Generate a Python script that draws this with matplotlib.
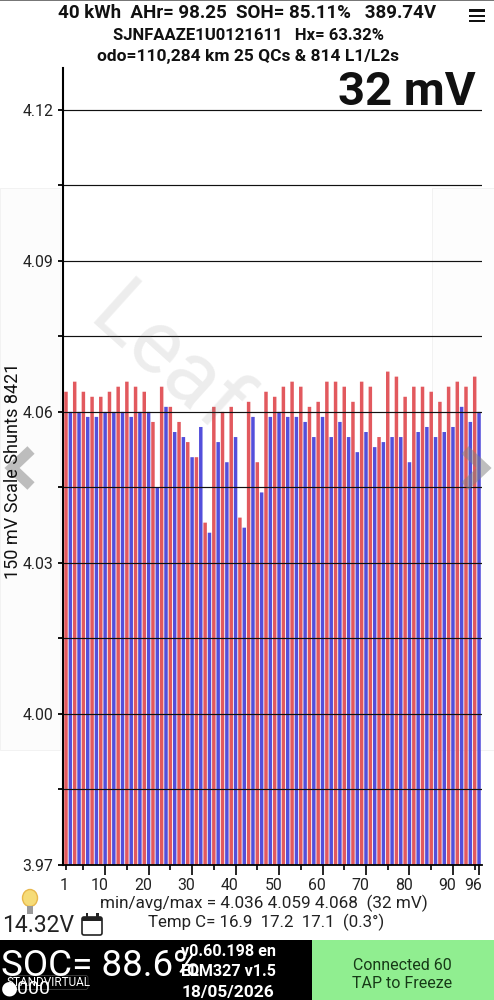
import matplotlib
matplotlib.use('Agg')
import matplotlib.pyplot as plt
from matplotlib.patches import Rectangle, Ellipse, FancyBboxPatch

plt.rcParams['font.family'] = ['Roboto', 'DejaVu Sans']

# Cell pair readings, red = odd cells, blue = even cells
red_values = [4.064, 4.066, 4.064, 4.063, 4.063, 4.064, 4.065, 4.066, 4.065, 4.064, 4.058, 4.065,
              4.061, 4.058, 4.054, 4.051, 4.038, 4.061, 4.060, 4.061, 4.039, 4.062, 4.050, 4.064,
              4.063, 4.065, 4.066, 4.065, 4.061, 4.062, 4.066, 4.066, 4.065, 4.062, 4.066, 4.065,
              4.055, 4.068, 4.067, 4.063, 4.065, 4.065, 4.064, 4.062, 4.065, 4.066, 4.065, 4.067]
blue_values = [4.060, 4.060, 4.059, 4.059, 4.060, 4.060, 4.060, 4.059, 4.060, 4.060, 4.045, 4.061,
               4.056, 4.055, 4.051, 4.057, 4.036, 4.054, 4.050, 4.055, 4.037, 4.059, 4.044, 4.059,
               4.060, 4.059, 4.059, 4.058, 4.055, 4.059, 4.055, 4.058, 4.055, 4.052, 4.056, 4.053,
               4.054, 4.055, 4.055, 4.050, 4.056, 4.057, 4.055, 4.056, 4.057, 4.061, 4.058, 4.060]

grid_values = [3.97, 3.985, 4.00, 4.015, 4.03, 4.045, 4.06, 4.075, 4.09, 4.105, 4.12]
y_labels = ['3.97', '', '4.00', '', '4.03', '', '4.06', '', '4.09', '', '4.12']
x_major = [10, 20, 30, 40, 50, 60, 70, 80, 90, 96]
x_minor = [1, 5, 15, 25, 35, 45, 55, 65, 75, 85, 95]
x_labels = ['1', '10', '20', '30', '40', '50', '60', '70', '80', '90', '96']
x_label_pos = [1, 10, 20, 30, 40, 50, 60, 70, 80, 90, 96]

W, H = 494, 1000
fig = plt.figure(figsize=(W / 100, H / 100), dpi=100, facecolor='white')

# Overlay in pixel coordinates, for the app furniture around the chart
back = fig.add_axes([0, 0, 1, 1], zorder=0)
back.set_xlim(0, W)
back.set_ylim(H, 0)
back.axis('off')
back.add_patch(Rectangle((0, 188), 60, 562, fc='#fcfcfc', ec='#f2f2f2', lw=0.7))
back.add_patch(Rectangle((432, 188), 62, 562, fc='#fdfdfd', ec='#f2f2f2', lw=0.7))

# Main chart
ax = fig.add_axes([63 / W, 1 - 865 / H, 419 / W, 797 / H], zorder=1)
ax.patch.set_alpha(0)
red_x = [i * 2 + 1 for i in range(len(red_values))]
blue_x = [i * 2 + 2 for i in range(len(blue_values))]
# snap off, otherwise the narrow bars get rounded to uneven pixel widths
ax.bar(red_x, red_values, width=0.8, color='#E2595E', zorder=2, linewidth=0, snap=False)
ax.bar(blue_x, blue_values, width=0.8, color='#534FDB', zorder=2, linewidth=0, snap=False)
ax.set_xlim(0.31, 96.68)
ax.set_ylim(3.97, 4.1283)

for v in grid_values[1:]:
    ax.axhline(v, color='#111111', lw=0.85, zorder=3)

ax.spines['top'].set_visible(False)
ax.spines['right'].set_visible(False)
ax.spines['left'].set_linewidth(1.5)
ax.spines['bottom'].set_linewidth(1.3)
ax.spines['left'].set_zorder(5)
ax.set_yticks(grid_values)
ax.set_yticklabels(y_labels, fontsize=11.4, color='#222222')
ax.tick_params(axis='y', length=3.8, width=1.3, pad=3)
ax.set_xticks(x_major)
ax.set_xticklabels([])
ax.set_xticks(x_minor, minor=True)
ax.tick_params(axis='x', which='major', length=7.5, width=1.2)
ax.tick_params(axis='x', which='minor', length=3.8, width=1.2)

# The app draws its x labels a little to the left of the ticks
for pos, lab in zip(x_label_pos, x_labels):
    shift = -1.5 if pos == 1 else -4.2
    ax.annotate(lab, xy=(pos, 0), xycoords=('data', 'axes fraction'),
                xytext=(shift, -14.5), textcoords='offset points',
                ha='center', va='center', fontsize=11.4, color='#222222')

# Top overlay
top = fig.add_axes([0, 0, 1, 1], zorder=2)
top.set_xlim(0, W)
top.set_ylim(H, 0)
top.axis('off')
top.patch.set_alpha(0)

# Watermark and the swipe arrows
top.text(85, 322, 'Leaf', fontsize=64, color='#777777', alpha=0.13, rotation=-42,
         rotation_mode='anchor', ha='left', va='baseline')
top.plot([31, 12, 31], [450, 468, 486], color='#808080', alpha=0.5, lw=7.5,
         solid_joinstyle='miter', solid_capstyle='butt')
top.plot([465, 484, 465], [450, 468, 486], color='#808080', alpha=0.5, lw=7.5,
         solid_joinstyle='miter', solid_capstyle='butt')

top.add_patch(Rectangle((0, 0), W, 1, fc='#777777', ec='none'))

# Header
top.text(247, 13.5, '40 kWh  AHr= 98.25  SOH= 85.11%   389.74V', fontsize=13.5, fontweight='bold',
         ha='center', va='center', color='#111111')
top.text(248, 35, 'SJNFAAZE1U0121611   Hx= 63.32%', fontsize=12, fontweight='bold',
         ha='center', va='center', color='#111111')
top.text(248, 57, 'odo=110,284 km 25 QCs & 814 L1/L2s', fontsize=12.5, fontweight='bold',
         ha='center', va='center', color='#111111')
top.text(476, 92, '32 mV', fontsize=34, fontweight='bold', ha='right', va='center', color='#111111')
for y in (9, 14.5, 19.5):
    top.add_patch(Rectangle((469, y), 16, 2.8, fc='#111111', ec='none'))

top.text(13, 471, '150 mV Scale Shunts 8421', fontsize=13, rotation=90, ha='center', va='center',
         color='#111111')

# Below the chart
top.text(264, 903, 'min/avg/max = 4.036 4.059 4.068  (32 mV)', fontsize=12.3, ha='center', va='center',
         color='#222222')
top.text(266, 922, 'Temp C= 16.9  17.2  17.1  (0.3\u00b0)', fontsize=12.2, ha='center', va='center',
         color='#222222')
top.text(2, 925, '14.32V', fontsize=16.5, ha='left', va='center', color='#222222')

# Bulb and calendar icons
top.add_patch(Ellipse((30, 898), 15, 17, fc='#F6DC78', ec='#E8B84C', lw=1))
top.add_patch(Rectangle((27, 906), 6, 8, fc='#9a9a9a', ec='none'))
top.add_patch(FancyBboxPatch((82, 917), 20, 18, boxstyle='round,pad=0,rounding_size=2',
                             fc='white', ec='#222222', lw=1.2))
top.add_patch(Rectangle((82, 917), 20, 4, fc='#222222', ec='none'))
top.add_patch(Rectangle((85.5, 913), 2.5, 6, fc='#222222', ec='none'))
top.add_patch(Rectangle((96, 913), 2.5, 6, fc='#222222', ec='none'))

# Bottom strip
top.add_patch(Rectangle((0, 940), 311.5, 60, fc='black', ec='none'))
top.add_patch(Rectangle((311.5, 940), W - 311.5, 60, fc='#90EE90', ec='none'))
top.text(1, 966, 'SOC= 88.6%', fontsize=26.5, color='white', ha='left', va='center')
top.text(228, 952, 'v0.60.198 en', fontsize=11.6, fontweight='bold', color='white', ha='center', va='center')
top.text(228, 972, 'ELM327 v1.5', fontsize=11.6, fontweight='bold', color='white', ha='center', va='center')
top.text(228, 992, '18/05/2026', fontsize=12.5, fontweight='bold', color='white', ha='center', va='center')
top.text(402, 965, 'Connected 60', fontsize=11.5, color='#173a17', ha='center', va='center')
top.text(402, 984, 'TAP to Freeze', fontsize=11.5, color='#173a17', ha='center', va='center')
top.text(1, 988, '\u25cf000', fontsize=14, color='white', ha='left', va='center')
top.add_patch(FancyBboxPatch((10, 975.5), 78, 14, boxstyle='round,pad=0,rounding_size=2.5',
                             fc='#000000', alpha=0.35, ec='#bbbbbb', lw=0.6))
top.text(49, 983, 'STANDVIRTUAL', fontsize=8.5, color='white', ha='center', va='center')

fig.savefig('out.png', dpi=100)
